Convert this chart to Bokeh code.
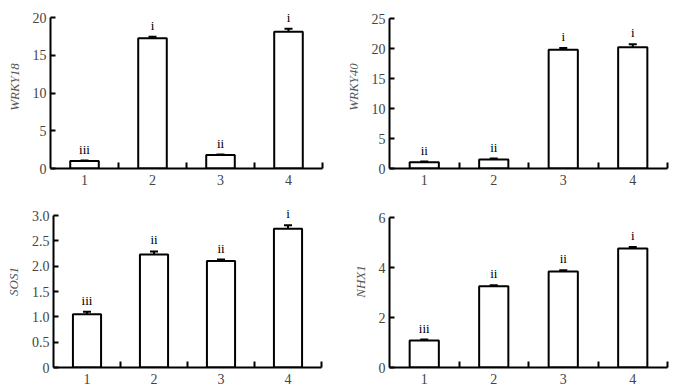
from bokeh.plotting import figure
from bokeh.models import FixedTicker, ColumnDataSource, Whisker, TeeHead, Range1d, LabelSet
from bokeh.layouts import column, row
from bokeh.embed import file_html
from bokeh.resources import INLINE

categories = [1, 2, 3, 4]
tick_labels = ["1", "2", "3", "4"]

wrky18 = [1.0, 17.25, 1.8, 18.1]
wrky18_err = [0.05, 0.2, 0.05, 0.4]
wrky18_sig = ["iii", "i", "ii", "i"]

wrky40 = [1.05, 1.5, 19.8, 20.2]
wrky40_err = [0.1, 0.15, 0.3, 0.5]
wrky40_sig = ["ii", "ii", "i", "i"]

sos1 = [1.05, 2.23, 2.10, 2.74]
sos1_err = [0.05, 0.06, 0.03, 0.07]
sos1_sig = ["iii", "ii", "ii", "i"]

nhx1 = [1.08, 3.25, 3.84, 4.76]
nhx1_err = [0.04, 0.04, 0.05, 0.06]
nhx1_sig = ["iii", "ii", "ii", "i"]

FONT = "'Liberation Serif', 'Times New Roman', Times, serif"


def panel(name, vals, errs, sig, ymax, yticks, fmt_labels, w, h, bl, br, bt, bb, axis_px):
    frame_h = h - bt - bb
    y_end = ymax * frame_h / axis_px  # extra headroom above the axis for letters
    p = figure(width=w, height=h, output_backend="svg", toolbar_location=None,
               x_range=Range1d(0.5, 4.5), y_range=Range1d(0, y_end),
               min_border_left=bl, min_border_right=br,
               min_border_top=bt, min_border_bottom=bb)
    p.outline_line_color = None
    p.xgrid.visible = False
    p.ygrid.visible = False
    src = ColumnDataSource(dict(
        x=categories, top=vals,
        lo=[v - e for v, e in zip(vals, errs)],
        hi=[v + e for v, e in zip(vals, errs)],
        sig=sig))
    p.vbar(x="x", top="top", bottom=0, width=0.42, source=src,
           fill_color="white", line_color="black", line_width=2)
    wh = Whisker(base="x", upper="hi", lower="lo", source=src,
                 line_color="black", line_width=2,
                 upper_head=TeeHead(size=8, line_width=2, line_color="black"),
                 lower_head=TeeHead(size=8, line_width=2, line_color="black"))
    p.add_layout(wh)
    labels = LabelSet(x="x", y="hi", text="sig", source=src, text_align="center",
                      text_baseline="bottom", y_offset=4,
                      text_font=FONT, text_font_size="13px", text_color="black")
    p.add_layout(labels)

    xa = p.xaxis[0]
    xa.ticker = FixedTicker(ticks=categories, minor_ticks=[1.5, 2.5, 3.5, 4.5])
    xa.major_label_overrides = {c: t for c, t in zip(categories, tick_labels)}
    xa.major_tick_in = 0
    xa.major_tick_out = 0
    xa.minor_tick_in = 6
    xa.minor_tick_out = 0
    xa.minor_tick_line_width = 2
    xa.axis_line_width = 2
    xa.major_label_text_font = FONT
    xa.major_label_text_font_size = "14px"
    xa.major_label_standoff = 6

    ya = p.yaxis[0]
    ya.bounds = (0, ymax)
    ya.ticker = FixedTicker(ticks=yticks, minor_ticks=[])
    ya.major_label_overrides = {t: l for t, l in zip(yticks, fmt_labels)}
    ya.major_tick_in = 5
    ya.major_tick_out = 0
    ya.major_tick_line_width = 2
    ya.axis_line_width = 2
    ya.major_label_text_font = FONT
    ya.major_label_text_font_size = "14px"
    ya.major_label_standoff = 4
    ya.axis_label = name
    ya.axis_label_text_font = FONT
    ya.axis_label_text_font_style = "italic"
    ya.axis_label_text_font_size = "13px"
    ya.axis_label_text_color = "#555555"
    ya.axis_label_standoff = 8
    return p


p1 = panel("WRKY18", wrky18, wrky18_err, wrky18_sig, 20,
           [0, 5, 10, 15, 20], ["0", "5", "10", "15", "20"],
           342, 190, 50, 20, 5, 22, 151)
p2 = panel("WRKY40", wrky40, wrky40_err, wrky40_sig, 25,
           [0, 5, 10, 15, 20, 25], ["0", "5", "10", "15", "20", "25"],
           342, 190, 47, 17, 5, 22, 150)
p3 = panel("SOS1", sos1, sos1_err, sos1_sig, 3.0,
           [0, 0.5, 1.0, 1.5, 2.0, 2.5, 3.0], ["0", "0.5", "1.0", "1.5", "2.0", "2.5", "3.0"],
           342, 201, 53, 21, 5, 24, 152)
p4 = panel("NHX1", nhx1, nhx1_err, nhx1_sig, 6,
           [0, 2, 4, 6], ["0", "2", "4", "6"],
           342, 201, 47, 17, 5, 24, 150)

layout = column(row(p1, p2), row(p3, p4))
open("out.html", "w").write(file_html(layout, INLINE))
